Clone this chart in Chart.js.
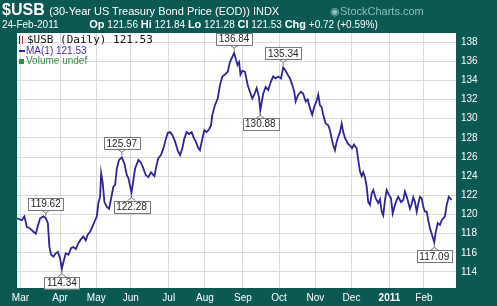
<!DOCTYPE html>
<html>
<head>
<meta charset="utf-8">
<script src="https://cdn.jsdelivr.net/npm/chart.js@4"></script>
<style>
  body { margin: 0; background: #0c5853; }
  #wrap { position: relative; width: 497px; height: 306px; overflow: hidden; font-family: "Liberation Sans", Arial, sans-serif; color: #fff; }
  #chart { position: absolute; left: 0; top: 0; }
  .t1 { position: absolute; left: 2px; top: 1px; white-space: nowrap; }
  .t1 b { font-size: 16px; }
  .t1 span { font-size: 11px; }
  .brand { position: absolute; left: 330px; top: 5px; font-size: 11px; color: #8fc0b9; }
  .t2 { position: absolute; left: 2px; top: 18px; font-size: 10px; white-space: nowrap; }
  .t2 b { font-size: 11px; }
  .leg { position: absolute; left: 19px; white-space: nowrap; }
  .ico { display: inline-block; vertical-align: middle; }
</style>
</head>
<body>
<div id="wrap">
  <canvas id="chart" width="497" height="306"></canvas>
  <div class="t1"><b>$USB</b> <span>(30-Year US Treasury Bond Price (EOD)) INDX</span></div>
  <div class="brand">&#9673;StockCharts.com</div>
  <div class="t2">24-Feb-2011 <span style="margin-left:28px"><b>Op</b> 121.56 <b>Hi</b> 121.84 <b>Lo</b> 121.28 <b>Cl</b> 121.53 <b>Chg</b> +0.72 (+0.59%)</span></div>
  <div class="leg" style="top:33px;font:11px 'DejaVu Sans Mono',monospace;color:#111"><span class="ico" style="width:2px;height:8px;border-left:1px solid #2c2390;border-right:1px solid #c03040;margin-right:4px"></span>$USB (Daily) 121.53</div>
  <div class="leg" style="top:45px;font:10px 'Liberation Sans',Arial;color:#4a2a9a"><span class="ico" style="width:6px;height:2px;background:#2c2390;margin-right:1px"></span>MA(1) 121.53</div>
  <div class="leg" style="top:55px;font:10px 'Liberation Sans',Arial;color:#3a8a4a"><span class="ico" style="width:5px;height:5px;background:#3a8a4a;margin-right:2px"></span>Volume undef</div>
</div>
<script>
// trading-day index (0 = 25-Feb-2010) and close values
const dayIdx = [0, 2.8, 4.3, 5.7, 7.6, 9.5, 10.9, 12.1, 13.4, 15.3, 16.7, 17.9, 18.8, 19.8, 21.1, 22.5, 23.7, 25.0, 26.0,
  27.3, 28.3, 29.8, 31.4, 32.7, 34.1, 35.6, 37.0, 38.5, 39.9, 41.0, 42.4, 43.7, 45.3, 46.3, 47.2, 48.2, 48.8, 49.7,
  50.7, 52.1, 53.4, 54.6, 55.9, 56.9, 57.9, 59.2, 60.8, 62.3, 63.7, 64.6, 66.4, 68.5, 70.4, 71.9, 73.3, 74.7, 76.2,
  77.7, 79.7, 81.0, 82.0, 83.5, 84.9, 85.9, 87.4, 88.8, 90.1, 91.7, 93.2, 94.6, 95.9, 97.0, 98.4, 99.8, 101.3, 102.3,
  103.7, 105.2, 106.1, 107.5, 108.6, 110.0, 111.4, 112.5, 113.3, 114.8, 116.4, 117.7, 119.1, 120.6, 122.2, 123.5,
  124.5, 125.9, 127.9, 128.8, 129.6, 130.7, 132.2, 133.8, 135.1, 136.5, 137.6, 139.0, 140.3, 141.1, 142.8, 144.2,
  145.7, 147.3, 148.6, 150.0, 151.5, 153.1, 154.4, 155.8, 157.0, 158.3, 159.7, 160.8, 161.6, 163.1, 164.7, 166.0,
  167.4, 168.6, 169.9, 171.2, 172.4, 173.8, 174.7, 175.7, 176.7, 177.6, 179.0, 180.5, 181.5, 182.5, 183.4, 184.4,
  185.4, 186.3, 187.3, 188.3, 189.2, 190.2, 191.9, 193.1, 194.3, 195.4, 197.0, 197.9, 198.9, 199.9, 200.8, 201.8,
  202.8, 203.7, 204.7, 205.7, 206.6, 208.0, 209.5, 210.5, 211.5, 212.4, 213.4, 214.4, 215.3, 216.9, 217.9, 219.2,
  220.2, 221.1, 222.7, 224.0, 225.0, 226.0, 226.9, 227.9, 228.9, 229.8, 230.8, 231.8, 232.7, 233.7, 234.7, 235.6,
  236.6, 237.6, 238.5, 239.5, 240.5, 242.0, 242.8, 244.0, 245.3, 246.3, 247.2, 248.2, 249.2, 250.4, 252.0];
const closes = [119.6, 119.4, 119.8, 118.7, 118.55, 118.2, 118.0, 118.8, 119.6, 119.8, 119.62, 119.1, 116.6, 115.8, 115.6, 115.95, 116.1, 115.4, 114.34,
  115.3, 115.95, 115.8, 116.5, 116.6, 116.4, 117.0, 117.4, 117.7, 117.3, 117.9, 118.2, 118.7, 119.4, 119.8, 121.2, 121.9, 124.3, 123.3,
  121.3, 120.8, 120.6, 121.7, 122.9, 123.1, 124.8, 125.7, 125.97, 125.3, 124.1, 123.8, 122.28, 124.8, 125.7, 125.4, 124.8, 124.1, 123.9,
  124.4, 124.0, 125.2, 125.9, 126.2, 126.9, 127.6, 128.5, 128.6, 128.3, 127.6, 126.7, 126.2, 126.9, 127.9, 128.6, 128.4, 128.6, 128.1,
  127.6, 126.9, 126.7, 127.9, 128.8, 128.6, 128.9, 129.3, 130.4, 131.4, 132.1, 133.5, 134.4, 134.6, 134.9, 135.9,
  136.3, 136.84, 135.6, 135.9, 134.6, 135.0, 134.9, 133.5, 132.8, 132.1, 132.5, 133.2, 132.3, 130.88, 132.6, 133.3,
  133.0, 133.9, 134.4, 134.2, 134.4, 134.2, 135.34, 135.0, 134.6, 134.2, 133.5, 132.8, 131.8, 132.5, 132.8, 132.6,
  131.8, 132.0, 131.1, 130.4, 131.25, 131.9, 132.5, 131.4, 131.2, 130.4, 129.5, 129.3, 128.8, 127.9, 127.25, 126.7,
  127.6, 128.1, 128.6, 129.5, 128.6, 128.0, 127.4, 127.2, 126.9, 127.3, 126.9, 125.7, 124.5, 124.0, 124.4, 123.9,
  122.9, 121.3, 121.0, 122.2, 122.55, 121.7, 121.2, 121.6, 120.3, 119.9, 121.5, 122.55, 122.2, 121.7, 120.1, 121.0,
  121.5, 121.85, 121.3, 121.5, 122.4, 121.85, 121.3, 120.6, 121.1, 121.8, 121.3, 120.3, 121.1, 121.85, 121.7, 120.8,
  120.3, 120.3, 119.4, 118.55, 118.0, 117.09, 118.1, 119.1, 118.9, 119.4, 119.6, 119.8, 121.0, 121.85, 121.53];

const monthTicks = [2, 25, 46, 66, 88, 109, 131, 152, 173, 194, 216, 236];
const monthLabels = ['Mar', 'Apr', 'May', 'Jun', 'Jul', 'Aug', 'Sep', 'Oct', 'Nov', 'Dec', '2011', 'Feb'];
const priceTicks = [114, 116, 118, 120, 122, 124, 126, 128, 130, 132, 134, 136, 138];

// peak / trough call-outs
const annotIdx = [16.7, 26.0, 60.8, 66.4, 125.9, 141.1, 154.4, 242.0];
const annotVal = [119.62, 114.34, 125.97, 122.28, 136.84, 130.88, 135.34, 117.09];
const annotAbove = [true, false, true, false, true, false, true, false];

const plotBg = {
  id: 'plotBg',
  beforeDraw(chart) {
    const { ctx, chartArea: a } = chart;
    ctx.save();
    ctx.fillStyle = '#ffffff';
    ctx.fillRect(a.left, a.top, a.right - a.left, a.bottom - a.top);
    ctx.restore();
  }
};

const callouts = {
  id: 'callouts',
  afterDatasetsDraw(chart) {
    const { ctx, scales } = chart;
    ctx.save();
    ctx.font = '10px "Liberation Sans", Arial';
    ctx.textAlign = 'center';
    ctx.textBaseline = 'middle';
    annotIdx.forEach((d, i) => {
      const px = scales.x.getPixelForValue(d);
      const py = scales.y.getPixelForValue(annotVal[i]);
      const txt = annotVal[i].toFixed(2);
      const w = ctx.measureText(txt).width + 5;
      const h = 12;
      const edge = annotAbove[i] ? py - 8 : py + 8;
      const top = annotAbove[i] ? edge - h : edge;
      ctx.fillStyle = '#fff';
      ctx.fillRect(px - w / 2, top, w, h);
      ctx.strokeStyle = '#777';
      ctx.lineWidth = 1;
      ctx.strokeRect(Math.round(px - w / 2) + 0.5, Math.round(top) + 0.5, Math.round(w), h);
      ctx.beginPath();
      const tip = annotAbove[i] ? py - 2 : py + 2;
      ctx.moveTo(px - 4, edge);
      ctx.lineTo(px, (edge + tip) / 2);
      ctx.lineTo(px + 4, edge);
      ctx.moveTo(px, (edge + tip) / 2);
      ctx.lineTo(px, tip);
      ctx.stroke();
      ctx.fillStyle = '#222';
      ctx.fillText(txt, px, top + h / 2 + 0.5);
    });
    ctx.restore();
  }
};

new Chart(document.getElementById('chart'), {
  type: 'line',
  data: {
    datasets: [{
      data: dayIdx.map((d, i) => ({ x: d, y: closes[i] })),
      borderColor: '#2e2592',
      borderWidth: 1.8,
      pointRadius: 0,
      tension: 0,
      fill: false
    }]
  },
  options: {
    responsive: false,
    animation: false,
    layout: { padding: { left: 17, top: 33, right: 0, bottom: 0 } },
    plugins: { legend: { display: false }, tooltip: { enabled: false } },
    scales: {
      x: {
        type: 'linear',
        min: 0,
        max: 254.6,
        afterBuildTicks: (axis) => { axis.ticks = monthTicks.map(v => ({ value: v })); },
        afterFit: (scale) => { scale.height = 18; },
        grid: { color: '#d9d9d9', drawTicks: false },
        border: { display: false },
        ticks: {
          autoSkip: false,
          maxRotation: 0,
          padding: 4,
          color: '#ffffff',
          font: (c) => ({ family: '"Liberation Sans", Arial', size: 10, weight: c.index === 10 ? 'bold' : 'normal' }),
          callback: (v) => monthLabels[monthTicks.indexOf(v)]
        }
      },
      y: {
        position: 'right',
        min: 112.33,
        max: 138.94,
        afterBuildTicks: (axis) => { axis.ticks = priceTicks.map(v => ({ value: v })); },
        afterFit: (scale) => { scale.width = 41; },
        grid: { color: '#d9d9d9', drawTicks: false },
        border: { display: false },
        ticks: {
          padding: 5,
          color: '#ffffff',
          font: { family: '"Liberation Sans", Arial', size: 10 }
        }
      }
    }
  },
  plugins: [plotBg, callouts]
});
</script>
</body>
</html>
